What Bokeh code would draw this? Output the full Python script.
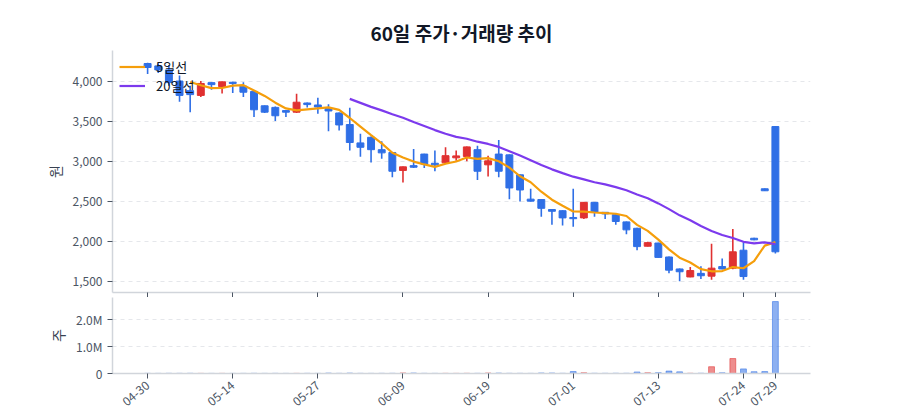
import pandas as pd
from bokeh.plotting import figure
from bokeh.layouts import column
from bokeh.models import (ColumnDataSource, Range1d, FixedTicker, NumeralTickFormatter,
                          CustomJSTickFormatter, Legend, LegendItem)
from bokeh.embed import file_html
from bokeh.resources import INLINE

# 60 trading days, daily OHLC (KRW) and volume
opens = [4230, 4200, 4150, 4010, 3890, 3830, 3990, 3940, 3995, 3945,
         3880, 3700, 3680, 3640, 3620, 3735, 3710, 3665, 3610, 3465,
         3235, 3305, 3150, 3115, 2890, 2950, 3095, 2980, 2985, 3048,
         3065, 3150, 2960, 3095, 3085, 2835, 2530, 2525, 2400, 2385,
         2300, 2295, 2490, 2365, 2335, 2245, 2165, 1940, 1980, 1805,
         1655, 1555, 1600, 1565, 1685, 1665, 1890, 2040, 2660, 3440]
highs = [4240, 4230, 4210, 4080, 3950, 4010, 3995, 4005, 4000, 3995,
         3890, 3705, 3690, 3645, 3850, 3740, 3800, 3720, 3615, 3675,
         3350, 3315, 3255, 3120, 2940, 3160, 3100, 3140, 3180, 3140,
         3190, 3200, 3075, 3270, 3090, 2840, 2660, 2530, 2405, 2390,
         2660, 2495, 2495, 2370, 2340, 2250, 2170, 1995, 1985, 1810,
         1660, 1680, 1690, 1970, 1785, 2155, 1990, 2045, 2662, 3445]
lows = [4100, 4110, 3950, 3750, 3620, 3810, 3900, 3855, 3860, 3810,
        3560, 3610, 3510, 3560, 3610, 3680, 3600, 3380, 3390, 3140,
        3060, 2990, 3035, 2805, 2740, 2920, 2920, 2880, 2980, 3010,
        3005, 2770, 2815, 2805, 2530, 2500, 2500, 2310, 2210, 2200,
        2185, 2280, 2310, 2280, 2210, 2090, 1890, 1935, 1795, 1600,
        1500, 1550, 1530, 1520, 1650, 1650, 1520, 2015, 2632, 1850]
closes = [4180, 4150, 3990, 3830, 3840, 3980, 3965, 4000, 3980, 3870,
          3650, 3620, 3575, 3620, 3745, 3715, 3685, 3635, 3460, 3240,
          3180, 3150, 3110, 2880, 2935, 2930, 2970, 2960, 3075, 3072,
          3185, 2880, 3010, 2880, 2670, 2645, 2505, 2415, 2378, 2295,
          2285, 2490, 2365, 2345, 2250, 2145, 1935, 1985, 1800, 1640,
          1620, 1635, 1570, 1665, 1655, 1870, 1560, 2020, 2635, 1870]
volumes = [6000, 5000, 7000, 6000, 8000, 5000, 4000, 5000, 4000, 5000,
           7000, 5000, 6000, 4000, 5000, 6000, 5000, 15000, 6000, 15000,
           6000, 5000, 6000, 7000, 20000, 18000, 6000, 5000, 6000, 5000,
           7000, 6000, 18000, 16000, 7000, 6000, 5000, 20000, 18000, 7000,
           70000, 25000, 8000, 7000, 9000, 8000, 55000, 25000, 30000, 90000,
           60000, 9000, 10000, 250000, 25000, 550000, 170000, 65000, 70000, 2650000]

tick_idx = [0, 8, 16, 24, 32, 40, 48, 56, 59]
tick_labels = ["04-30", "05-14", "05-27", "06-09", "06-19", "07-01", "07-13", "07-24", "07-29"]

UP = "#e03131"
DOWN = "#2f6fe6"
FONT = "Noto Sans CJK KR"

df = pd.DataFrame(dict(open=opens, high=highs, low=lows, close=closes, volume=volumes))
df["idx"] = range(len(df))
df["top"] = df[["open", "close"]].max(axis=1)
df["bottom"] = df[["open", "close"]].min(axis=1)
df["color"] = [UP if c >= o else DOWN for o, c in zip(df["open"], df["close"])]
df["ma5"] = df["close"].rolling(5).mean()
df["ma20"] = df["close"].rolling(20).mean()
src = ColumnDataSource(df)

x_range = Range1d(-3.3, 62.3)


def style_axes(p):
    p.xgrid.grid_line_color = None
    p.ygrid.grid_line_color = "#e5e7eb"
    p.ygrid.grid_line_dash = "4 4"
    p.outline_line_color = None
    for ax in p.axis:
        ax.axis_line_color = "#d1d5db"
        ax.axis_line_width = 1.5
        ax.major_tick_line_color = "#4b5563"
        ax.minor_tick_line_color = None
        ax.major_tick_in = 0
        ax.major_tick_out = 5
        ax.major_label_text_font = FONT
        ax.major_label_text_font_size = "12px"
        ax.major_label_text_color = "#4b5563"
        ax.axis_label_text_font = FONT
        ax.axis_label_text_font_size = "14px"
        ax.axis_label_text_font_style = "normal"
        ax.axis_label_text_color = "#374151"
    p.xaxis.ticker = FixedTicker(ticks=tick_idx)


p = figure(frame_width=698, frame_height=242, x_range=x_range, y_range=Range1d(1360, 4393),
           output_backend="svg", toolbar_location=None, title="60일 주가·거래량 추이",
           min_border_left=112, min_border_right=62, min_border_top=50, min_border_bottom=0)
p.title.align = "center"
p.title.text_font = FONT
p.title.text_font_size = "19px"
p.title.text_color = "#111827"
style_axes(p)
p.yaxis.ticker = FixedTicker(ticks=[1500, 2000, 2500, 3000, 3500, 4000])
p.yaxis.formatter = NumeralTickFormatter(format="0,0")
p.yaxis.axis_label = "원"
# price panel shares the date ticks but shows no date labels
p.xaxis.formatter = CustomJSTickFormatter(code="return '';")
p.xaxis.major_label_standoff = 0

p.segment("idx", "high", "idx", "low", source=src, line_color="color", line_width=1.6)
p.vbar("idx", 0.65, "top", "bottom", source=src, fill_color="color", line_color="color")
r5 = p.line("idx", "ma5", source=src, line_color="#f59e0b", line_width=2.2)
r20 = p.line("idx", "ma20", source=src, line_color="#7c3aed", line_width=2.2)

legend = Legend(items=[LegendItem(label="5일선", renderers=[r5]),
                       LegendItem(label="20일선", renderers=[r20])],
                location="top_left", background_fill_alpha=0, border_line_color=None,
                label_text_font=FONT, label_text_font_size="13px", label_text_color="#111827",
                margin=7, padding=2, spacing=0, glyph_width=26, glyph_height=19,
                label_height=19, label_standoff=11)
p.add_layout(legend)

v = figure(frame_width=698, frame_height=76, x_range=x_range, y_range=Range1d(0, 2.8e6),
           output_backend="svg", toolbar_location=None,
           min_border_left=112, min_border_right=62, min_border_top=0, min_border_bottom=30)
style_axes(v)
v.xaxis.major_label_overrides = {i: s for i, s in zip(tick_idx, tick_labels)}
v.yaxis.ticker = FixedTicker(ticks=[0, 1e6, 2e6])
v.yaxis.formatter = CustomJSTickFormatter(code="return tick == 0 ? '0' : (tick / 1e6).toFixed(1) + 'M';")
v.yaxis.axis_label = "주"
v.xaxis.major_label_orientation = 0.7
v.vbar("idx", 0.55, "volume", 0, source=src, fill_color="color", line_color="color",
       fill_alpha=0.55, line_alpha=0.55)

layout = column(p, v, spacing=0)

open("out.html", "w").write(file_html(layout, INLINE))
